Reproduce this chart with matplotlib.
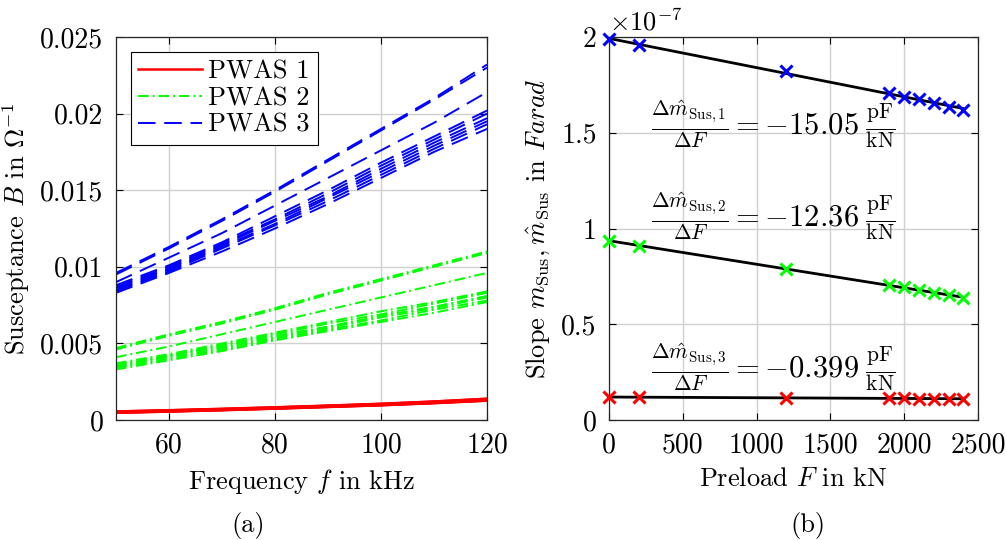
import numpy as np
import matplotlib
matplotlib.use('Agg')
import matplotlib.pyplot as plt

plt.rcParams['font.family'] = 'serif'
plt.rcParams['font.serif'] = ['cmr10']
plt.rcParams['mathtext.fontset'] = 'cm'
plt.rcParams['axes.formatter.use_mathtext'] = True
plt.rcParams['axes.unicode_minus'] = False

# ---- (a) susceptance over frequency, one curve per preload step ----
f_khz = [50, 60, 70, 80, 90, 100, 110, 120]

pwas1_B = [
    [0.00056, 0.00064, 0.00073, 0.00083, 0.00094, 0.00106, 0.00121, 0.00139],
    [0.00055, 0.00063, 0.00072, 0.00082, 0.00093, 0.00105, 0.00120, 0.00138],
    [0.00053, 0.00061, 0.00070, 0.00080, 0.00091, 0.00103, 0.00117, 0.00135],
    [0.00052, 0.00060, 0.00069, 0.00079, 0.00090, 0.00102, 0.00116, 0.00133],
    [0.00051, 0.00059, 0.00068, 0.00078, 0.00089, 0.00100, 0.00114, 0.00131],
    [0.00050, 0.00058, 0.00067, 0.00077, 0.00088, 0.00099, 0.00113, 0.00130],
    [0.00049, 0.00057, 0.00066, 0.00076, 0.00087, 0.00098, 0.00112, 0.00129],
    [0.00048, 0.00056, 0.00065, 0.00075, 0.00086, 0.00097, 0.00111, 0.00127],
    [0.00047, 0.00055, 0.00064, 0.00074, 0.00085, 0.00096, 0.00110, 0.00126],
]

pwas2_B = [
    [0.0047, 0.0056, 0.0064, 0.0073, 0.0083, 0.0092, 0.0101, 0.0110],
    [0.0046, 0.0055, 0.0063, 0.0072, 0.0082, 0.0091, 0.0100, 0.0109],
    [0.0041, 0.0048, 0.0056, 0.0064, 0.0072, 0.0080, 0.0088, 0.0096],
    [0.0037, 0.0043, 0.0050, 0.0057, 0.0064, 0.0071, 0.0077, 0.0084],
    [0.0036, 0.0042, 0.0049, 0.0056, 0.0063, 0.0069, 0.0076, 0.0083],
    [0.0035, 0.0042, 0.0048, 0.0055, 0.0061, 0.0068, 0.0074, 0.0081],
    [0.0035, 0.0041, 0.0047, 0.0054, 0.0060, 0.0067, 0.0073, 0.0080],
    [0.0034, 0.0040, 0.0046, 0.0053, 0.0059, 0.0065, 0.0072, 0.0078],
    [0.0033, 0.0039, 0.0045, 0.0052, 0.0058, 0.0064, 0.0070, 0.0077],
]

pwas3_B = [
    [0.0096, 0.0113, 0.0131, 0.0150, 0.0170, 0.0190, 0.0210, 0.0232],
    [0.0095, 0.0112, 0.0130, 0.0149, 0.0169, 0.0189, 0.0209, 0.0230],
    [0.0090, 0.0106, 0.0122, 0.0140, 0.0158, 0.0176, 0.0194, 0.0214],
    [0.0088, 0.0101, 0.0116, 0.0133, 0.0150, 0.0168, 0.0185, 0.0202],
    [0.0087, 0.0100, 0.0115, 0.0131, 0.0148, 0.0166, 0.0183, 0.0200],
    [0.0086, 0.0099, 0.0114, 0.0130, 0.0146, 0.0164, 0.0181, 0.0197],
    [0.0085, 0.0098, 0.0113, 0.0128, 0.0145, 0.0162, 0.0179, 0.0195],
    [0.0084, 0.0097, 0.0112, 0.0127, 0.0143, 0.0160, 0.0177, 0.0193],
    [0.0083, 0.0096, 0.0110, 0.0125, 0.0141, 0.0158, 0.0175, 0.0190],
]

# ---- (b) slopes over preload (in 1e-7 F) ----
preload_kN = [0, 200, 1200, 1900, 2000, 2100, 2200, 2300, 2400]
slope_pwas1 = [1.988, 1.958, 1.824, 1.706, 1.688, 1.675, 1.657, 1.636, 1.619]
slope_pwas2 = [0.936, 0.910, 0.790, 0.705, 0.693, 0.679, 0.665, 0.653, 0.636]
slope_pwas3 = [0.120, 0.119, 0.116, 0.113, 0.113, 0.112, 0.112, 0.111, 0.111]
fit_labels = [
    r'$\frac{\Delta\hat{m}_{\mathrm{Sus},1}}{\Delta F}=-15.05\;\frac{\mathrm{pF}}{\mathrm{kN}}$',
    r'$\frac{\Delta\hat{m}_{\mathrm{Sus},2}}{\Delta F}=-12.36\;\frac{\mathrm{pF}}{\mathrm{kN}}$',
    r'$\frac{\Delta\hat{m}_{\mathrm{Sus},3}}{\Delta F}=-0.399\;\frac{\mathrm{pF}}{\mathrm{kN}}$',
]

red = '#ff0000'
green = '#00ff00'
blue = '#0000ff'
gridc = '#d0d0d0'

fig = plt.figure(figsize=(10.06, 5.4), dpi=100)
ax1 = fig.add_axes([0.1153, 0.2222, 0.3688, 0.7093])
ax2 = fig.add_axes([0.6054, 0.2222, 0.3668, 0.7093])

for i in range(len(pwas1_B)):
    ax1.plot(f_khz, pwas1_B[i], color=red, lw=1.8, ls='-',
             label='PWAS 1' if i == 0 else None)
for i in range(len(pwas2_B)):
    ax1.plot(f_khz, pwas2_B[i], color=green, lw=1.4, ls=(0, (5.5, 2, 1, 2)),
             label='PWAS 2' if i == 0 else None)
for i in range(len(pwas3_B)):
    ax1.plot(f_khz, pwas3_B[i], color=blue, lw=1.4, ls=(0, (9, 4.5)),
             label='PWAS 3' if i == 0 else None)

ax1.set_xlim(50, 120)
ax1.set_ylim(0, 0.025)
ax1.set_xticks([60, 80, 100, 120])
ax1.set_xticklabels(['60', '80', '100', '120'])
ax1.set_yticks([0, 0.005, 0.01, 0.015, 0.02, 0.025])
ax1.set_yticklabels(['0', '0.005', '0.01', '0.015', '0.02', '0.025'])
ax1.set_xlabel(r'Frequency $f$ in kHz', fontsize=19, labelpad=6)
ax1.set_ylabel(r'Susceptance $B$ in $\Omega^{-1}$', fontsize=19, labelpad=6)
leg = ax1.legend(loc='upper left', fontsize=19, frameon=True, fancybox=False,
                 edgecolor='black', framealpha=1, handlelength=2.4,
                 borderaxespad=0.55, borderpad=0.3, labelspacing=0.12,
                 handletextpad=0.25)
leg.get_frame().set_linewidth(0.8)

pts = [(slope_pwas1, blue), (slope_pwas2, green), (slope_pwas3, red)]
text_y = [1.54, 1.06, 0.27]
for k, (vals, col) in enumerate(pts):
    coef = np.polyfit(preload_kN, vals, 1)
    ax2.plot(preload_kN, np.polyval(coef, preload_kN), color='black', lw=2, zorder=2)
    ax2.plot(preload_kN, vals, ls='none', marker='x', color=col, ms=9, mew=2.2,
             zorder=3, clip_on=False)
    ax2.text(1110, text_y[k], fit_labels[k], fontsize=22, ha='center', va='center')

ax2.set_xlim(0, 2500)
ax2.set_ylim(0, 2)
ax2.set_xticks([0, 500, 1000, 1500, 2000, 2500])
ax2.set_xticklabels(['0', '500', '1000', '1500', '2000', '2500'])
ax2.set_yticks([0, 0.5, 1, 1.5, 2])
ax2.set_yticklabels(['0', '0.5', '1', '1.5', '2'])
ax2.set_xlabel(r'Preload $F$ in kN', fontsize=19, labelpad=6)
ax2.set_ylabel(r'Slope $m_{\mathrm{Sus}},\hat{m}_{\mathrm{Sus}}$ in $Farad$', fontsize=19,
               labelpad=6)
ax2.text(0.0, 1.005, r'$\times10^{-7}$', transform=ax2.transAxes, fontsize=19,
         ha='left', va='bottom')

for ax in (ax1, ax2):
    ax.grid(True, color=gridc, lw=1)
    ax.set_axisbelow(True)
    ax.tick_params(direction='in', top=True, right=True, labelsize=20, length=5, width=0.8, pad=9)
    for s in ax.spines.values():
        s.set_linewidth(0.9)
        s.set_color('#262626')

fig.text(248 / 1006, 0.026, '(a)', fontsize=19, ha='center', va='center')
fig.text(808 / 1006, 0.026, '(b)', fontsize=19, ha='center', va='center')

fig.savefig('out.png', dpi=100)
